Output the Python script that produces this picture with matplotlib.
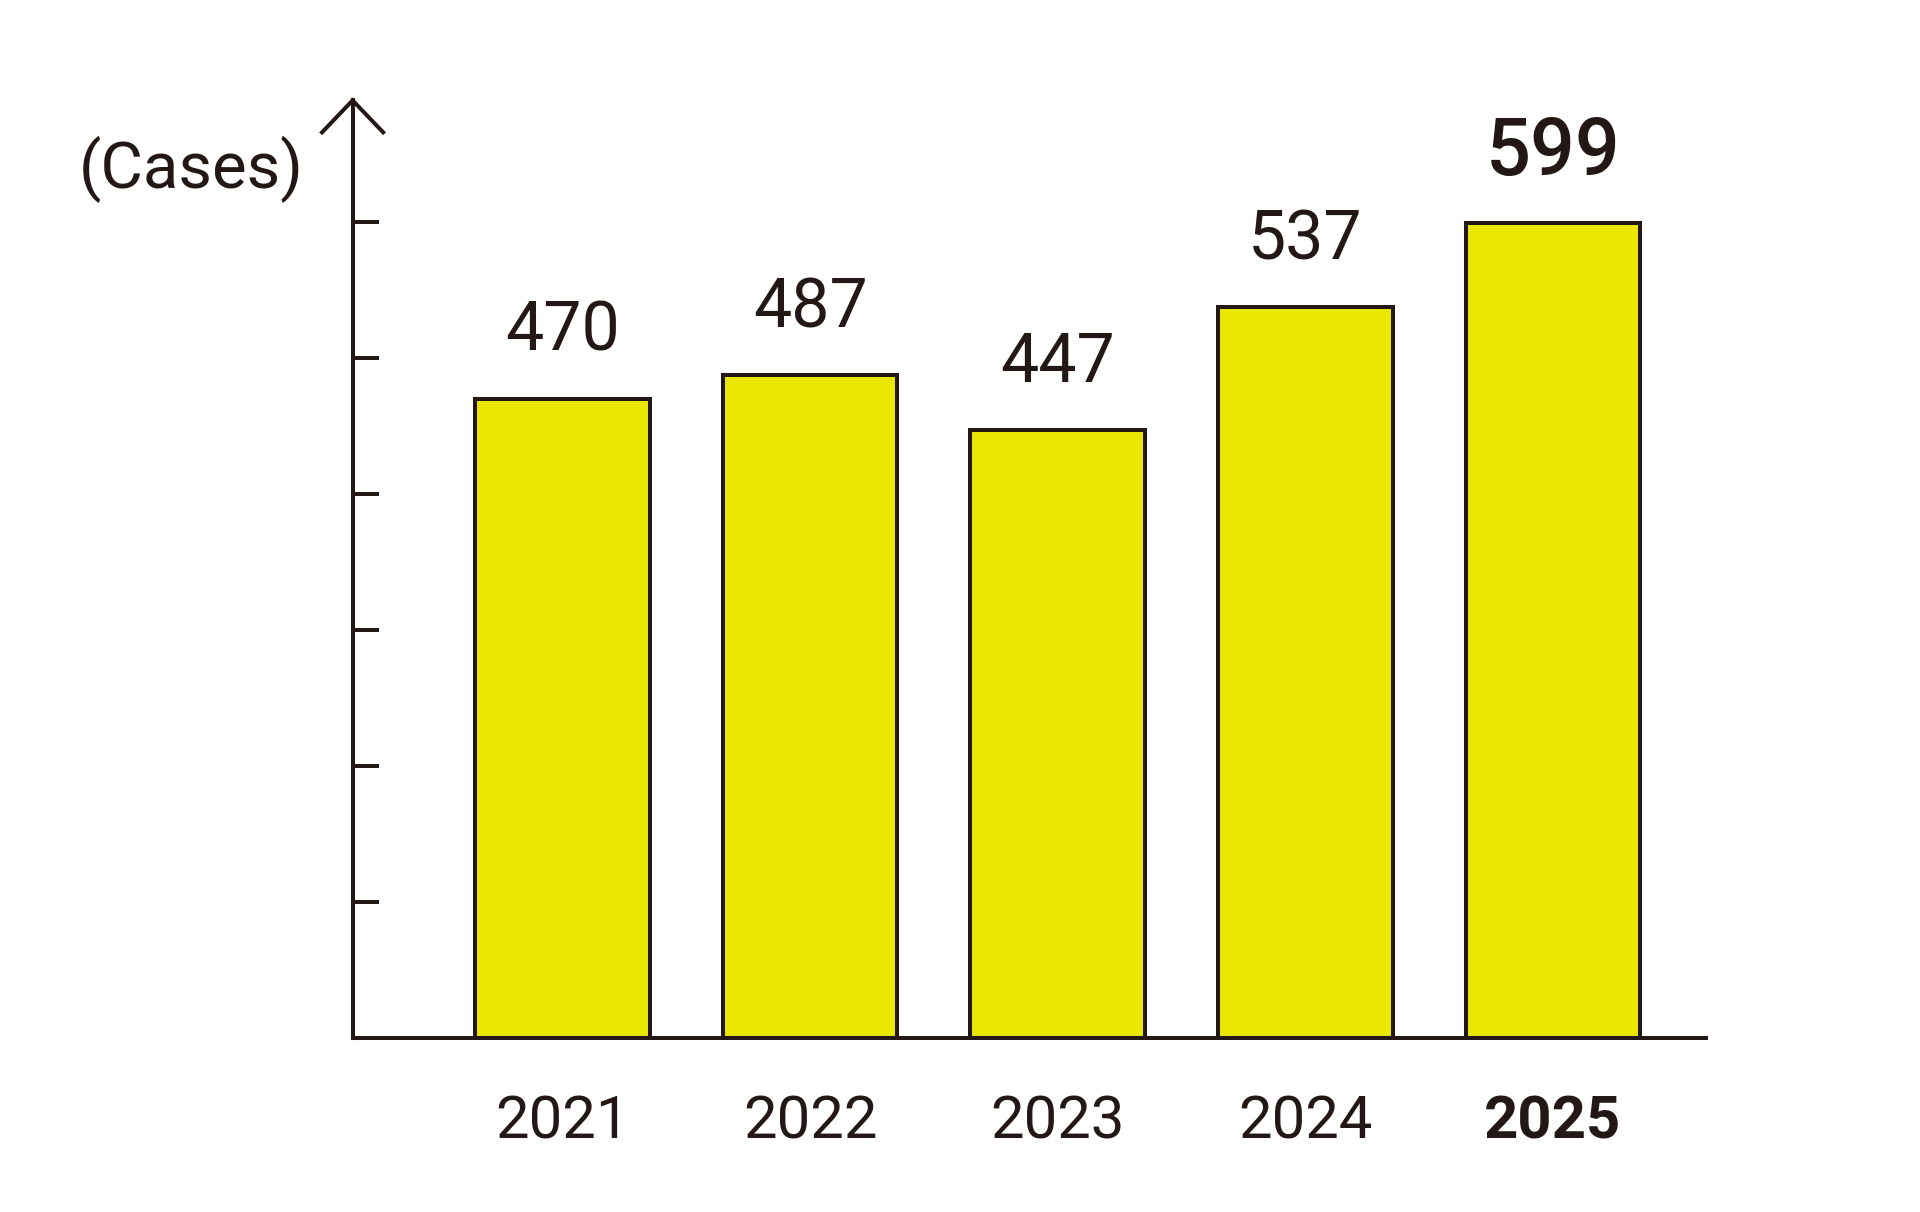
import matplotlib
matplotlib.use("Agg")
import matplotlib.pyplot as plt
import matplotlib.transforms as mtransforms

years = ["2021", "2022", "2023", "2024", "2025"]
cases = [470, 487, 447, 537, 599]
yticks = [100, 200, 300, 400, 500, 600]

INK = "#231815"
YELLOW = "#EAE800"
plt.rcParams['font.family'] = ['Roboto', 'DejaVu Sans']

W, H = 1920, 1212
fig = plt.figure(figsize=(W / 100, H / 100), dpi=100)
left, right = 352.6, 1705.7
base, top = 1038.4, 100.4
ax = fig.add_axes([left / W, (H - base) / H, (right - left) / W, (base - top) / H])
ax.set_xlim(-0.848, 4.617)
ax.set_ylim(0, 689)

LW = 2.9
x = list(range(len(years)))
ax.bar(x, cases, width=0.705, color=YELLOW, edgecolor=INK, linewidth=LW, zorder=2)

for s in ["top", "right"]:
    ax.spines[s].set_visible(False)
for s in ["left", "bottom"]:
    ax.spines[s].set_color(INK)
    ax.spines[s].set_linewidth(LW)
    ax.spines[s].set_zorder(3)
    ax.spines[s].set_capstyle('projecting')

ax.set_yticks(yticks)
ax.set_yticklabels([])
ax.tick_params(axis='y', direction='in', length=18.5, width=LW, color=INK)
ax.set_xticks([])

# open chevron arrow head at the top of the y axis, sized in points
tr = (mtransforms.Affine2D().scale(1 / 72) + fig.dpi_scale_trans
      + mtransforms.Affine2D().translate(*ax.transAxes.transform((0, 1))))
ax.plot([-22, 0, 22], [-23, 0, -23], color=INK, lw=LW, transform=tr, clip_on=False,
        solid_joinstyle='miter', zorder=4)

for i, (yr, v) in enumerate(zip(years, cases)):
    last = i == len(years) - 1
    ax.annotate(str(v), xy=(i, v), xytext=(0, 34.5), textcoords='offset points',
                ha='center', va='baseline', color=INK,
                fontsize=57 if last else 49, fontweight='medium' if last else 'normal')
    ax.annotate(yr, xy=(i, 0), xytext=(0, -72), textcoords='offset points',
                ha='center', va='baseline', color=INK, fontsize=43,
                fontweight='bold' if last else 'normal', annotation_clip=False)

ax.text(-0.119, 0.907, "(Cases)", transform=ax.transAxes, ha='center', va='baseline',
        fontsize=47, color=INK)

fig.savefig("out.png", dpi=100, facecolor='white')
